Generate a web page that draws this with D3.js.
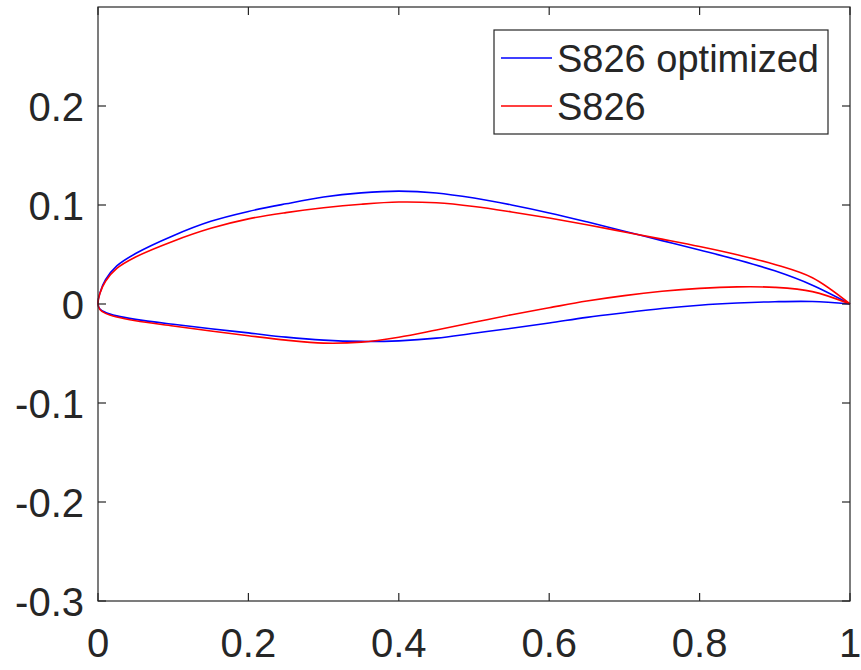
<!DOCTYPE html>
<html>
<head>
<meta charset="utf-8">
<script src="https://cdn.jsdelivr.net/npm/d3@7"></script>
<style>
  html, body { margin: 0; padding: 0; background: #fff; }
  svg { display: block; }
  text { font-family: "Liberation Sans", Arial, Helvetica, sans-serif; fill: #262626; }
</style>
</head>
<body>
<svg id="chart" width="861" height="670"></svg>
<script>
// Chordwise stations shared by both airfoils (x/c)
const stations = [0, 0.0025, 0.01, 0.025, 0.05, 0.1, 0.15, 0.2, 0.25, 0.3, 0.35, 0.4,
                  0.45, 0.5, 0.55, 0.6, 0.65, 0.7, 0.75, 0.8, 0.85, 0.9, 0.95, 1];

// S826 optimized surface ordinates (y/c)
const optimizedUpper = [0, 0.0110, 0.0245, 0.0385, 0.051, 0.069, 0.0835, 0.0935, 0.1012, 0.108, 0.1122, 0.1140,
                        0.1122, 0.1070, 0.1000, 0.0920, 0.0830, 0.0735, 0.0640, 0.0545, 0.0447, 0.0335, 0.0190, 0];
const optimizedLower = [0, -0.0050, -0.0085, -0.0120, -0.0155, -0.0205, -0.0250, -0.0292, -0.0335, -0.0365, -0.0378, -0.0372,
                        -0.0345, -0.0295, -0.0245, -0.0192, -0.0135, -0.0088, -0.0045, -0.0012, 0.0010, 0.0023, 0.0025, 0];

// S826 baseline surface ordinates (y/c)
const baseUpper = [0, 0.0105, 0.0230, 0.0360, 0.0475, 0.0635, 0.0765, 0.0860, 0.0923, 0.0972, 0.1008, 0.1030,
                   0.1022, 0.0985, 0.0930, 0.0868, 0.0800, 0.0728, 0.0655, 0.0580, 0.0497, 0.0400, 0.0265, 0];
const baseLower = [0, -0.0055, -0.0095, -0.0132, -0.0170, -0.0222, -0.0272, -0.0320, -0.0365, -0.0395, -0.0385, -0.0335,
                   -0.0262, -0.0185, -0.0108, -0.0038, 0.0030, 0.0085, 0.0128, 0.0158, 0.0173, 0.0168, 0.0125, 0];

const seriesNames = ["S826 optimized", "S826"];
const seriesColors = ["#0000ff", "#ff0000"];

const xTicks = [0, 0.2, 0.4, 0.6, 0.8, 1];
const yTicks = [-0.3, -0.2, -0.1, 0, 0.1, 0.2];
const xTickLabels = ["0", "0.2", "0.4", "0.6", "0.8", "1"];
const yTickLabels = ["-0.3", "-0.2", "-0.1", "0", "0.1", "0.2"];

const margin = { left: 98, right: 11, top: 7, bottom: 69 };
const W = 861, H = 670;

const svg = d3.select("#chart");
const x = d3.scaleLinear().domain([0, 1]).range([margin.left, W - margin.right]);
const y = d3.scaleLinear().domain([-0.3, 0.3]).range([H - margin.bottom, margin.top]);

const axisColor = "#262626";
const tickLen = 8;
const tickFont = 40;
const legendFont = 38;

// Closed contour: trailing edge -> upper surface -> leading edge -> lower surface -> trailing edge
function contour(upper, lower) {
  const pts = [];
  for (let i = stations.length - 1; i >= 0; i--) pts.push([stations[i], upper[i]]);
  for (let i = 1; i < stations.length; i++) pts.push([stations[i], lower[i]]);
  return pts;
}

const line = d3.line()
  .x(d => x(d[0]))
  .y(d => y(d[1]))
  .curve(d3.curveCatmullRom.alpha(0.5));

const plot = svg.append("g");
plot.append("path")
  .attr("d", line(contour(optimizedUpper, optimizedLower)))
  .attr("fill", "none").attr("stroke", seriesColors[0]).attr("stroke-width", 1.6);
plot.append("path")
  .attr("d", line(contour(baseUpper, baseLower)))
  .attr("fill", "none").attr("stroke", seriesColors[1]).attr("stroke-width", 1.6);

// Axes box: ticks point inward on all four sides, labels on left and bottom
const axes = svg.append("g").attr("stroke", axisColor).attr("stroke-width", 1.2);
const x0 = x(0), x1 = x(1), yb = y(-0.3), yt = y(0.3);
axes.append("rect").attr("x", x0).attr("y", yt).attr("width", x1 - x0).attr("height", yb - yt)
  .attr("fill", "none");

xTicks.forEach(t => {
  axes.append("line").attr("x1", x(t)).attr("x2", x(t)).attr("y1", yb).attr("y2", yb - tickLen);
  axes.append("line").attr("x1", x(t)).attr("x2", x(t)).attr("y1", yt).attr("y2", yt + tickLen);
});
yTicks.forEach(t => {
  axes.append("line").attr("y1", y(t)).attr("y2", y(t)).attr("x1", x0).attr("x2", x0 + tickLen);
  axes.append("line").attr("y1", y(t)).attr("y2", y(t)).attr("x1", x1).attr("x2", x1 - tickLen);
});

svg.append("g").selectAll("text").data(xTicks).join("text")
  .attr("x", d => x(d)).attr("y", yb + 56)
  .attr("text-anchor", "middle").attr("font-size", tickFont)
  .text((d, i) => xTickLabels[i]);

svg.append("g").selectAll("text").data(yTicks).join("text")
  .attr("x", x0 - 14).attr("y", d => y(d) + 15)
  .attr("text-anchor", "end").attr("font-size", tickFont)
  .text((d, i) => yTickLabels[i]);

// Legend
const legend = svg.append("g");
legend.append("rect").attr("x", 494).attr("y", 30).attr("width", 334).attr("height", 104)
  .attr("fill", "#fff").attr("stroke", axisColor).attr("stroke-width", 1.2);
seriesNames.forEach((name, i) => {
  const ly = 58 + i * 48;
  legend.append("line").attr("x1", 501).attr("x2", 552).attr("y1", ly).attr("y2", ly)
    .attr("stroke", seriesColors[i]).attr("stroke-width", 1.6);
  legend.append("text").attr("x", 557).attr("y", ly + 14)
    .attr("font-size", legendFont).text(name);
});
</script>
</body>
</html>
